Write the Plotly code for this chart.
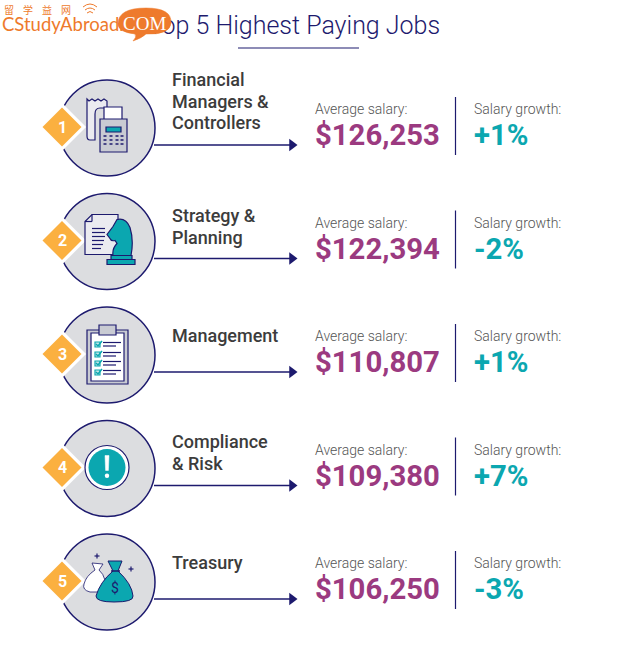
import plotly.graph_objects as go

# Top 5 highest paying jobs infographic
ranks = [1, 2, 3, 4, 5]
jobs = [["Financial", "Managers &", "Controllers"], ["Strategy &", "Planning"], ["Management"], ["Compliance", "& Risk"], ["Treasury"]]
salaries = ["$126,253", "$122,394", "$110,807", "$109,380", "$106,250"]
growth = ["+1%", "-2%", "+1%", "+7%", "-3%"]

title_text = "Top 5 Highest Paying Jobs"
salary_label = "Average salary:"
growth_label = "Salary growth:"
logo_cn = ["留", "学", "益", "网"]

NAVY = "#1d1a6e"
GREY = "#dcdde0"
ORANGE = "#fbb040"
PURPLE = "#9b3a80"
TEAL = "#0ba7b0"
LOGO = "#ee7a2c"

row_y = [128 + 113.5 * i for i in range(len(ranks))]
# first job line of each row
job_y = [79.5, 215.5, 335.5, 441.5, 562.5]

fig = go.Figure()


def shape(path, fill="rgba(0,0,0,0)", line=NAVY, width=1.2):
    fig.add_shape(type="path", path=path, fillcolor=fill, line=dict(color=line, width=width),
                  layer="above", xref="x", yref="y")


def rect(x0, y0, x1, y1, fill="rgba(0,0,0,0)", line=NAVY, width=1.2):
    fig.add_shape(type="rect", x0=x0, y0=y0, x1=x1, y1=y1, fillcolor=fill,
                  line=dict(color=line, width=width), layer="above", xref="x", yref="y")


def seg(x0, y0, x1, y1, color=NAVY, width=1.2):
    fig.add_shape(type="line", x0=x0, y0=y0, x1=x1, y1=y1, line=dict(color=color, width=width),
                  layer="above", xref="x", yref="y")


def icon_receipt(y):
    d = y - 128
    shape(f"M87 {99+d} L89 {101+d} L92 {99+d} L95 {101+d} L98 {99+d} L101 {101+d} L104 {99+d} L107 {101+d} L107 {108+d} "
          f"L100 {108+d} Q95 {108+d} 95 {114+d} L95 {140+d} L90 {140+d} Q87 {140+d} 87 {136+d} Z", fill="#ebebf0")
    rect(104, 107 + d, 122, 122 + d, fill="#ffffff")
    rect(100, 119 + d, 127, 152 + d, fill="#c9cbd3")
    rect(106, 127 + d, 121, 132 + d, fill=TEAL)
    for ky in (136, 140, 144):
        for kx in (105, 111, 117, 122):
            seg(kx - 1.5, ky + d, kx + 1.5, ky + d, width=1.5)


def icon_knight(y):
    d = y - 241
    shape(f"M92 {214+d} L118 {214+d} L118 {254+d} L85 {254+d} L85 {221+d} Z", fill="#ebebf0")
    seg(92, 214 + d, 92, 221 + d)
    seg(85, 221 + d, 92, 221 + d)
    for ly, lx in ((228, 105), (232, 105), (236, 105), (240, 104), (244, 103), (248, 101)):
        seg(92, ly + d, lx, ly + d)
    shape(f"M117 {219+d} Q126 {217+d} 130 {227+d} Q134 {240+d} 131 {255+d} L113 {255+d} Q112 {248+d} 117 {243+d} "
          f"L115 {240+d} Q111 {241+d} 110 {238+d} L107 {234+d} L113 {226+d} Z", fill=TEAL)
    rect(111, 255 + d, 132, 259 + d, fill=TEAL)
    rect(107, 259 + d, 135, 264 + d, fill=TEAL)


def icon_clipboard(y):
    d = y - 355
    rect(87, 330 + d, 128, 384 + d, fill="#c9cbd3")
    rect(91, 333 + d, 124, 381 + d, fill="#ffffff")
    rect(99, 325 + d, 116, 335 + d, fill="#c9cbd3")
    for ly in (344, 354, 363, 372):
        rect(95, ly - 2 + d, 100, ly + 3 + d, fill="#c5e6e8", line=TEAL, width=1.2)
        shape(f"M96 {ly+d} L98 {ly+2+d} L102 {ly-3+d}", line=TEAL, width=1.5)
        seg(103, ly - 1.5 + d, 121, ly - 1.5 + d)
        seg(103, ly + 2 + d, 116, ly + 2 + d)


def icon_alert(y):
    d = y - 468
    cx, cy = 107, 467 + d
    fig.add_shape(type="circle", x0=cx - 22, y0=cy - 22, x1=cx + 22, y1=cy + 22, fillcolor="#ffffff",
                  line=dict(color=NAVY, width=1.2), layer="above", xref="x", yref="y")
    fig.add_shape(type="circle", x0=cx - 18.5, y0=cy - 18.5, x1=cx + 18.5, y1=cy + 18.5, fillcolor=TEAL,
                  line=dict(color=TEAL, width=0), layer="above", xref="x", yref="y")
    shape(f"M105 {455+d} L109 {455+d} L108.4 {470+d} L105.6 {470+d} Z", fill="#ffffff", line="#ffffff", width=0.5)
    fig.add_shape(type="circle", x0=cx - 2.2, y0=cy + 6, x1=cx + 2.2, y1=cy + 10.5, fillcolor="#ffffff",
                  line=dict(color="#ffffff", width=0), layer="above", xref="x", yref="y")


def icon_bags(y):
    d = y - 582
    shape(f"M92 {563+d} L103 {564+d} L99 {570+d} Q108 {578+d} 104 {592+d} L90 {592+d} Q82 {590+d} 84 {584+d} Q86 {576+d} 95 {570+d} Z",
          fill="#ffffff", line=NAVY, width=0.8)
    shape(f"M108 {561+d} L122 {561+d} L118 {571+d} Q132 {584+d} 133 {596+d} Q134 {602+d} 114 {602+d} Q96 {602+d} 96 {596+d} Q100 {582+d} 113 {571+d} Z",
          fill=TEAL, line=NAVY, width=1)
    seg(111, 571 + d, 120, 571 + d, width=1.5)
    for px, py in ((97, 556), (131, 569)):
        seg(px - 2.5, py + d, px + 2.5, py + d)
        seg(px, py - 2.5 + d, px, py + 2.5 + d)


# big circles, with a white diamond cutting into their left side
fig.add_trace(go.Scatter(x=[107] * 5, y=row_y, mode="markers",
                         marker=dict(size=96, color=GREY, line=dict(color=NAVY, width=1.5))))
fig.add_trace(go.Scatter(x=[62] * 5, y=[v - 1 for v in row_y], mode="markers",
                         marker=dict(size=37, symbol="diamond", color="#ffffff")))
fig.add_trace(go.Scatter(x=[62] * 5, y=[v - 1 for v in row_y], mode="markers",
                         marker=dict(size=30, symbol="diamond", color=ORANGE)))

# arrows
for y in row_y:
    fig.add_trace(go.Scatter(x=[154, 292], y=[y + 17, y + 17], mode="lines", line=dict(color=NAVY, width=1.3)))
fig.add_trace(go.Scatter(x=[292] * 5, y=[v + 17 for v in row_y], mode="markers",
                         marker=dict(symbol="triangle-right", size=11, color=NAVY)))

# dividers
for y in row_y:
    fig.add_trace(go.Scatter(x=[455.5, 455.5], y=[y - 31, y + 27], mode="lines", line=dict(color=NAVY, width=1.2)))

# title sits under the logo bubble, so it is a trace and not an annotation
fig.add_trace(go.Scatter(x=[294], y=[28], mode="text", text=[title_text],
                         textfont=dict(family="Roboto", size=25, color=NAVY, weight=300)))
fig.add_trace(go.Scatter(x=[238, 359], y=[48, 48], mode="lines", line=dict(color=NAVY, width=1.2)))

icon_receipt(row_y[0])
icon_knight(row_y[1])
icon_clipboard(row_y[2])
icon_alert(row_y[3])
icon_bags(row_y[4])

# logo bubble and wifi arcs
shape("M118 24 Q118 8 146 8 Q172 8 171 23 Q170 35 146 34 Q142 38 133 41 Q137 37 135 34 Q118 32 118 24 Z",
      fill=LOGO, line=LOGO, width=0.5)
shape("M83 7 Q90 1 97 7", line=LOGO, width=1)
shape("M85 10 Q90 6 95 10", line=LOGO, width=1)
shape("M87 13 Q90 10 93 13", line=LOGO, width=1)


def note(x, y, text, size, color, weight=400, family="Roboto", anchor="left"):
    fig.add_annotation(x=x, y=y, text=text, showarrow=False, xanchor=anchor, yanchor="middle", align="left",
                       font=dict(family=family, size=size, color=color, weight=weight), xref="x", yref="y")


for i in range(len(ranks)):
    y = row_y[i]
    note(62, y - 1, str(ranks[i]), 16, "#ffffff", 700, anchor="center")
    for k, line in enumerate(jobs[i]):
        note(170, job_y[i] + 21.5 * k, line, 18, "#3c3c3c", 500)
    note(313, y - 19, salary_label, 14, "#555555", 300)
    note(313, y + 7, salaries[i], 29.3, PURPLE, 700)
    note(472, y - 19, growth_label, 14, "#555555", 300)
    note(472, y + 7, growth[i], 29.3, TEAL, 700)

note(115, row_y[4] + 6, "$", 14, NAVY, anchor="center")

# logo text
note(0, 24, "CStudyAbroad.", 18.5, LOGO, 400, family="Lato")
note(144, 23, "COM", 19, "#ffffff", family="Liberation Serif", anchor="center")
for i, ch in enumerate(logo_cn):
    note(8.5 + 19.2 * i, 9, ch, 10, LOGO, family="Noto Sans CJK SC", anchor="center")

fig.update_layout(
    width=631, height=652, margin=dict(l=0, r=0, t=0, b=0),
    paper_bgcolor="#ffffff", plot_bgcolor="#ffffff", showlegend=False,
    xaxis=dict(range=[0, 631], visible=False, fixedrange=True),
    yaxis=dict(range=[652, 0], visible=False, fixedrange=True),
)

fig.write_html("out.html", config={"displayModeBar": False}, post_script="document.body.style.margin='0';")
